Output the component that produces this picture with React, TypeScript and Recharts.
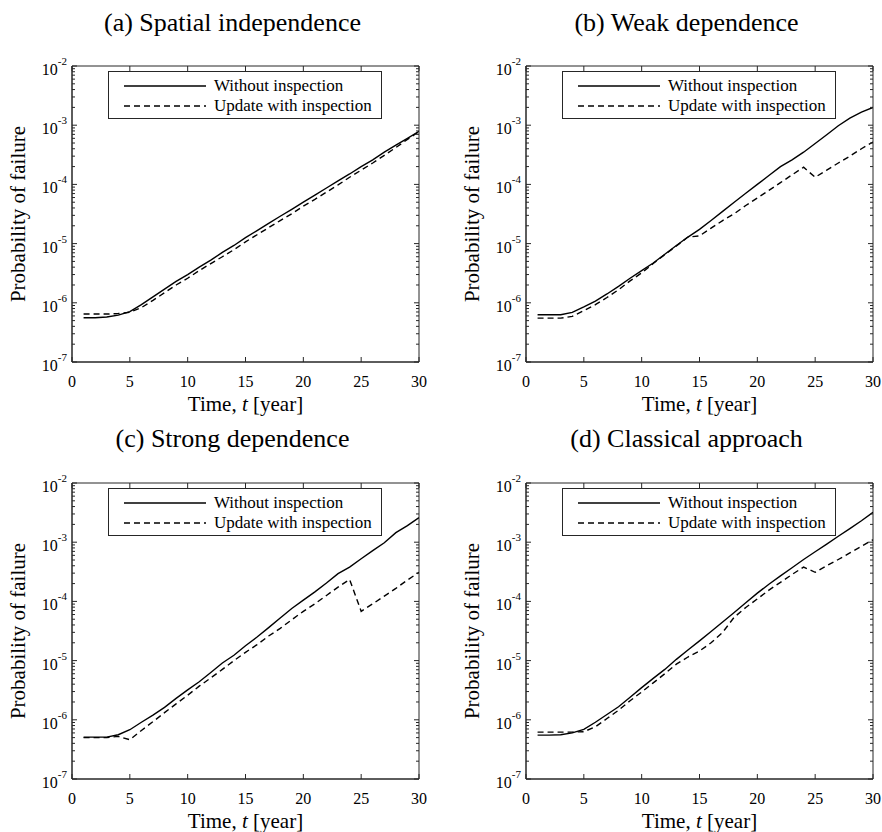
import { LineChart, Line, XAxis, YAxis, Legend, ReferenceArea } from 'recharts'

const years = [1, 2, 3, 4, 5, 6, 7, 8, 9, 10, 11, 12, 13, 14, 15, 16, 17, 18, 19, 20, 21, 22, 23, 24, 25, 26, 27, 28, 29, 30]
const yearTicks = [0, 5, 10, 15, 20, 25, 30]
const decadeTicks = [1e-7, 1e-6, 1e-5, 1e-4, 1e-3, 1e-2]
const decadeExponents = ['-7', '-6', '-5', '-4', '-3', '-2']
const minorSteps = [2, 3, 4, 5, 6, 7, 8, 9]
const seriesNames = ['Without inspection', 'Update with inspection']
const panelTitles = ['(a) Spatial independence', '(b) Weak dependence', '(c) Strong dependence', '(d) Classical approach']

// (a) spatial independence
const spatialWithout = [5.6e-7, 5.6e-7, 5.75e-7, 6.2e-7, 7.1e-7, 9.3e-7, 1.26e-6, 1.7e-6, 2.3e-6, 3.0e-6, 4.0e-6, 5.25e-6, 7.1e-6, 9.3e-6, 1.26e-5, 1.66e-5, 2.2e-5, 2.9e-5, 3.8e-5, 5.0e-5, 6.6e-5, 8.7e-5, 1.15e-4, 1.5e-4, 2.0e-4, 2.6e-4, 3.5e-4, 4.6e-4, 6.0e-4, 7.9e-4]
const spatialUpdate = [6.45e-7, 6.45e-7, 6.45e-7, 6.6e-7, 6.9e-7, 8.3e-7, 1.1e-6, 1.48e-6, 2.0e-6, 2.6e-6, 3.5e-6, 4.6e-6, 6.0e-6, 7.9e-6, 1.07e-5, 1.41e-5, 1.86e-5, 2.45e-5, 3.2e-5, 4.3e-5, 5.6e-5, 7.4e-5, 9.8e-5, 1.32e-4, 1.74e-4, 2.3e-4, 3.1e-4, 4.2e-4, 5.75e-4, 7.8e-4]

// (b) weak dependence
const weakWithout = [6.3e-7, 6.3e-7, 6.3e-7, 6.9e-7, 8.5e-7, 1.07e-6, 1.41e-6, 1.9e-6, 2.6e-6, 3.5e-6, 4.7e-6, 6.6e-6, 9.3e-6, 1.29e-5, 1.74e-5, 2.45e-5, 3.5e-5, 5.0e-5, 7.1e-5, 1.0e-4, 1.41e-4, 2.0e-4, 2.6e-4, 3.5e-4, 4.9e-4, 6.9e-4, 9.8e-4, 1.32e-3, 1.66e-3, 2.0e-3]
const weakUpdate = [5.5e-7, 5.5e-7, 5.5e-7, 5.9e-7, 7.4e-7, 9.3e-7, 1.23e-6, 1.66e-6, 2.35e-6, 3.2e-6, 4.6e-6, 6.5e-6, 9.1e-6, 1.29e-5, 1.35e-5, 1.82e-5, 2.45e-5, 3.2e-5, 4.4e-5, 5.9e-5, 7.9e-5, 1.07e-4, 1.45e-4, 1.95e-4, 1.32e-4, 1.74e-4, 2.3e-4, 3.0e-4, 4.0e-4, 5.2e-4]

// (c) strong dependence
const strongWithout = [5.1e-7, 5.1e-7, 5.1e-7, 5.6e-7, 6.8e-7, 9.1e-7, 1.2e-6, 1.62e-6, 2.3e-6, 3.2e-6, 4.4e-6, 6.3e-6, 9.1e-6, 1.23e-5, 1.78e-5, 2.5e-5, 3.6e-5, 5.25e-5, 7.6e-5, 1.05e-4, 1.45e-4, 2.05e-4, 2.95e-4, 3.8e-4, 5.25e-4, 7.2e-4, 9.8e-4, 1.45e-3, 1.9e-3, 2.6e-3]
const strongUpdate = [5.0e-7, 5.0e-7, 5.0e-7, 5.25e-7, 4.6e-7, 6.6e-7, 9.3e-7, 1.32e-6, 1.86e-6, 2.6e-6, 3.7e-6, 5.1e-6, 7.1e-6, 1.0e-5, 1.38e-5, 1.86e-5, 2.6e-5, 3.5e-5, 4.9e-5, 6.8e-5, 9.1e-5, 1.26e-4, 1.74e-4, 2.35e-4, 6.8e-5, 9.1e-5, 1.23e-4, 1.66e-4, 2.3e-4, 3.1e-4]

// (d) classical approach
const classicalWithout = [5.5e-7, 5.5e-7, 5.6e-7, 6.0e-7, 6.9e-7, 9.1e-7, 1.23e-6, 1.66e-6, 2.4e-6, 3.5e-6, 5.0e-6, 7.1e-6, 1.05e-5, 1.51e-5, 2.15e-5, 3.1e-5, 4.5e-5, 6.5e-5, 9.5e-5, 1.38e-4, 1.95e-4, 2.7e-4, 3.7e-4, 5.1e-4, 6.9e-4, 9.3e-4, 1.26e-3, 1.7e-3, 2.3e-3, 3.2e-3]
const classicalUpdate = [6.2e-7, 6.2e-7, 6.2e-7, 6.2e-7, 6.3e-7, 7.6e-7, 1.05e-6, 1.45e-6, 2.1e-6, 2.95e-6, 4.2e-6, 6.0e-6, 8.7e-6, 1.15e-5, 1.45e-5, 2.0e-5, 3.0e-5, 5.4e-5, 7.9e-5, 1.1e-4, 1.55e-4, 2.1e-4, 2.85e-4, 3.8e-4, 3.1e-4, 4.0e-4, 5.1e-4, 6.6e-4, 8.5e-4, 1.1e-3]

const AXIS = '#262626'
const FONT = "'Liberation Serif', 'Times New Roman', Times, 'DejaVu Serif', serif"
const W = 441
const H = 416
const DASH = '6 4'

const allYTicks = decadeTicks.flatMap((d, i) =>
  i < decadeTicks.length - 1 ? [d, ...minorSteps.map(s => s * d)] : [d]
)

function XTick(props: any) {
  const { x, y, payload, plotH } = props
  return (
    <g>
      <line x1={x} x2={x} y1={y} y2={y - 5} stroke={AXIS} />
      <line x1={x} x2={x} y1={y - plotH} y2={y - plotH + 5} stroke={AXIS} />
      <text x={x} y={y + 25} textAnchor="middle" fontSize={16} style={{ fontFamily: FONT }} fill="#000">
        {payload.value}
      </text>
    </g>
  )
}

function YTick(props: any) {
  const { x, y, payload, plotW } = props
  const v = payload.value
  const idx = decadeTicks.findIndex(d => Math.abs(d - v) / d < 1e-6)
  const major = idx >= 0
  const len = major ? 5 : 3
  return (
    <g>
      <line x1={x} x2={x + len} y1={y} y2={y} stroke={AXIS} />
      <line x1={x + plotW} x2={x + plotW - len} y1={y} y2={y} stroke={AXIS} />
      {major && (
        <text x={x - 5} y={y + 9} textAnchor="end" fontSize={16} style={{ fontFamily: FONT }} fill="#000">
          10<tspan dy={-10} fontSize={11}>{decadeExponents[idx]}</tspan>
        </text>
      )}
    </g>
  )
}

function LegendBox() {
  return (
    <div
      style={{
        width: 274,
        height: 48,
        boxSizing: 'border-box',
        border: `1px solid ${AXIS}`,
        background: '#fff',
        paddingTop: 4,
        fontFamily: FONT,
        fontSize: 17,
      }}
    >
      {seriesNames.map((name, i) => (
        <div key={name} style={{ display: 'flex', alignItems: 'center', height: 20 }}>
          <svg width={97} height={4} style={{ flexShrink: 0 }}>
            <line x1={15} x2={97} y1={2} y2={2} stroke="#000" strokeWidth={1.4} strokeDasharray={i === 1 ? DASH : undefined} />
          </svg>
          <span style={{ marginLeft: 8, whiteSpace: 'nowrap', lineHeight: '20px' }}>{name}</span>
        </div>
      ))}
    </div>
  )
}

interface PanelProps {
  title: string
  without: number[]
  update: number[]
  ox: number
  oy: number
  left: number
  right: number
  top: number
  bottom: number
}

function Panel({ title, without, update, ox, oy, left, right, top, bottom }: PanelProps) {
  const data = years.map((t, i) => ({ t, without: without[i], update: update[i] }))
  const plotW = W - left - right
  const plotH = H - top - bottom
  const titleCenter = left + plotW / 2 - 13

  return (
    <div style={{ position: 'absolute', left: ox, top: oy, width: W, height: H }}>
      <div
        style={{
          position: 'absolute',
          left: titleCenter - 200,
          top: 0,
          width: 400,
          height: 46,
          lineHeight: '46px',
          textAlign: 'center',
          fontFamily: FONT,
          fontSize: 26,
          color: '#000',
        }}
      >
        {title}
      </div>
      <LineChart width={W} height={H} data={data} margin={{ top, right, bottom: 0, left: 0 }}>
        <XAxis
          dataKey="t"
          type="number"
          domain={[0, 30]}
          ticks={yearTicks}
          interval={0}
          height={bottom}
          tickLine={false}
          tickSize={0}
          tickMargin={0}
          stroke={AXIS}
          allowDataOverflow
          tick={(p: any) => <XTick {...p} plotH={plotH} />}
          label={{
            content: ({ viewBox }: any) => (
              <text
                x={viewBox.x + viewBox.width / 2}
                y={viewBox.y + 49}
                textAnchor="middle"
                fontSize={21}
                style={{ fontFamily: FONT }}
                fill="#000"
              >
                Time, <tspan fontStyle="italic">t</tspan> [year]
              </text>
            ),
          }}
        />
        <YAxis
          type="number"
          scale="log"
          domain={[1e-7, 1e-2]}
          allowDataOverflow
          ticks={allYTicks}
          interval={0}
          width={left}
          tickLine={false}
          tickSize={0}
          tickMargin={0}
          stroke={AXIS}
          tick={(p: any) => <YTick {...p} plotW={plotW} />}
          label={{
            content: ({ viewBox }: any) => {
              const lx = viewBox.x + viewBox.width - 47
              const ly = viewBox.y + viewBox.height / 2
              return (
                <text
                  x={lx}
                  y={ly}
                  transform={`rotate(-90 ${lx} ${ly})`}
                  textAnchor="middle"
                  fontSize={21}
                  style={{ fontFamily: FONT }}
                  fill="#000"
                >
                  Probability of failure
                </text>
              )
            },
          }}
        />
        <ReferenceArea x1={0} x2={30} y1={1e-7} y2={1e-2} fill="none" stroke={AXIS} strokeWidth={1} ifOverflow="visible" />
        <Legend
          layout="vertical"
          align="center"
          verticalAlign="middle"
          content={() => <LegendBox />}
          wrapperStyle={{ left: left + 36, top: top + 5, width: 274, height: 48 }}
        />
        <Line
          type="linear"
          dataKey="without"
          name={seriesNames[0]}
          stroke="#000"
          strokeWidth={1.4}
          dot={false}
          activeDot={false}
          isAnimationActive={false}
        />
        <Line
          type="linear"
          dataKey="update"
          name={seriesNames[1]}
          stroke="#000"
          strokeWidth={1.4}
          strokeDasharray={DASH}
          dot={false}
          activeDot={false}
          isAnimationActive={false}
        />
      </LineChart>
    </div>
  )
}

export default function App() {
  return (
    <div style={{ position: 'absolute', left: 0, top: 0, width: 882, height: 832, background: '#fff', fontFamily: FONT }}>
      <Panel title={panelTitles[0]} without={spatialWithout} update={spatialUpdate} ox={0} oy={0} left={72} right={22} top={66} bottom={54} />
      <Panel title={panelTitles[1]} without={weakWithout} update={weakUpdate} ox={441} oy={0} left={85} right={9} top={66} bottom={54} />
      <Panel title={panelTitles[2]} without={strongWithout} update={strongUpdate} ox={0} oy={416} left={72} right={22} top={67} bottom={53} />
      <Panel title={panelTitles[3]} without={classicalWithout} update={classicalUpdate} ox={441} oy={416} left={85} right={9} top={67} bottom={53} />
    </div>
  )
}
